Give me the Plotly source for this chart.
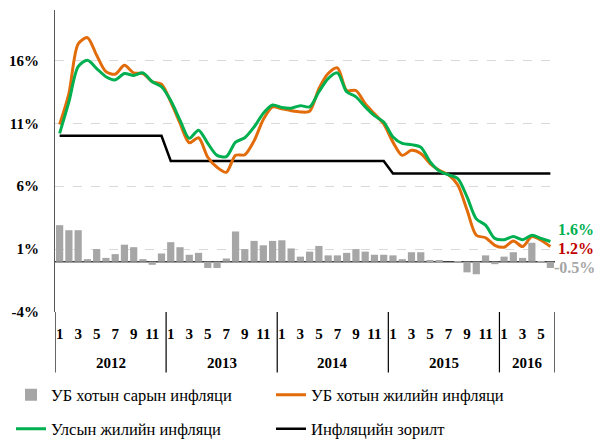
"""Inflation chart: UB monthly / annual inflation, national annual inflation and target"""

import plotly.graph_objects as go

# 2012-01 .. 2016-06
years = ["2012", "2013", "2014", "2015", "2016"]
months_per_year = [12, 12, 12, 12, 6]

ub_monthly = [2.9, 2.5, 2.5, 0.2, 1.0, 0.3, 0.6, 1.35, 1.15, 0.2, -0.25, 0.65,
              1.55, 1.15, 0.55, 0.7, -0.5, -0.5, 0.25, 2.4, 1.0, 1.65, 1.3, 1.65,
              1.7, 1.05, 0.4, 0.8, 1.25, 0.5, 0.5, 0.7, 1.0, 0.8, 0.55, 0.55,
              0.5, 0.2, 0.75, 0.75, 0.1, 0.1, 0.0, 0.05, -0.85, -1.0, 0.5, -0.2,
              0.4, 0.75, 0.3, 1.5, 0.05, -0.5]

ub_annual = [10.9, 13.35, 17.3, 17.8, 16.4, 15.1, 14.9, 15.6, 15.0, 14.95, 14.3, 14.1,
             12.7, 11.0, 9.45, 9.85, 8.3, 7.5, 7.1, 8.45, 8.5, 9.6, 11.3, 12.3,
             12.15, 12.0, 11.9, 11.95, 13.75, 14.95, 15.4, 13.6, 13.6, 12.55, 11.75, 10.95,
             9.5, 8.45, 8.85, 8.6, 7.8, 7.27, 6.9, 6.1, 4.1, 2.1, 1.9, 1.3,
             1.15, 1.65, 1.2, 2.0, 1.7, 1.2]

national_annual = [10.2, 12.7, 15.5, 16.0, 15.35, 14.7, 14.45, 14.95, 14.8, 15.0, 14.3, 13.9,
                   12.8, 11.25, 9.8, 10.45, 9.4, 8.45, 8.35, 9.5, 9.85, 10.7, 11.8, 12.45,
                   12.25, 12.2, 12.4, 12.3, 13.5, 14.55, 15.0, 13.5, 13.1, 12.3, 11.6, 11.1,
                   9.9, 9.4, 9.3, 9.1, 7.95, 7.2, 6.9, 6.6, 5.15, 3.4, 2.9, 1.85,
                   1.75, 2.0, 1.75, 2.1, 1.85, 1.6]

target = [10] * 12 + [8] * 24 + [7] * 18

names = ["УБ хотын сарын инфляци", "УБ хотын жилийн инфляци",
         "Улсын жилийн инфляци", "Инфляцийн зорилт"]

y_ticks = [-4, 1, 6, 11, 16]

serif = "Liberation Serif"
GRAY = "#a6a6a6"
ORANGE = "#e36c0a"
GREEN = "#00b050"

month_nums = [m for n in months_per_year for m in range(1, n + 1)]
x = list(range(len(month_nums)))

fig = go.Figure()
fig.add_trace(go.Bar(x=x, y=ub_monthly, name=names[0], marker_color=GRAY,
                     marker_line_width=0, legend="legend", legendrank=1))
fig.add_trace(go.Scatter(x=x, y=target, name=names[3], mode="lines",
                         line=dict(color="black", width=2.5),
                         legend="legend2", legendrank=4))
fig.add_trace(go.Scatter(x=x, y=ub_annual, name=names[1], mode="lines",
                         line=dict(color=ORANGE, width=3, shape="spline", smoothing=0.8),
                         legend="legend", legendrank=2))
fig.add_trace(go.Scatter(x=x, y=national_annual, name=names[2], mode="lines",
                         line=dict(color=GREEN, width=3, shape="spline", smoothing=0.8),
                         legend="legend2", legendrank=3))

# zero line
fig.add_hline(y=0, line_color="#404040", line_width=1.5, layer="below")

# year group dividers and year labels below the axis
start = 0
bounds = [-0.5]
for yr, n in zip(years, months_per_year):
    fig.add_annotation(x=start + (n - 1) / 2, y=-0.17, xref="x", yref="paper",
                       yanchor="middle", text="<b>%s</b>" % yr, showarrow=False,
                       font=dict(family=serif, size=15, color="black"))
    start += n
    bounds.append(start - 0.5)
for b in bounds:
    fig.add_shape(type="line", x0=b, x1=b, y0=0, y1=-0.2, xref="x", yref="paper",
                  line=dict(color="black", width=1.2))

# end-point labels
fig.add_annotation(x=x[-1], y=national_annual[-1], text="<b>1.6%</b>", showarrow=False,
                   xanchor="left", xshift=6, yshift=12,
                   font=dict(family=serif, size=16, color=GREEN))
fig.add_annotation(x=x[-1], y=ub_annual[-1], text="<b>1.2%</b>", showarrow=False,
                   xanchor="left", xshift=6, yshift=-2,
                   font=dict(family=serif, size=16, color="#c00000"))
fig.add_annotation(x=x[-1], y=ub_monthly[-1], text="<b>-0.5%</b>", showarrow=False,
                   xanchor="left", xshift=2, yshift=0,
                   font=dict(family=serif, size=16, color=GRAY))

odd_idx = [i for i, m in enumerate(month_nums) if m % 2 == 1]
fig.update_xaxes(range=[-0.5, len(x) - 0.5], tickvals=odd_idx,
                 ticktext=["<b>%d</b>" % month_nums[i] for i in odd_idx],
                 tickfont=dict(family=serif, size=15, color="black"),
                 showgrid=False, zeroline=False, showline=False, ticks="",
                 ticklabelstandoff=11)
fig.update_yaxes(range=[-4, 20], tickvals=y_ticks,
                 ticktext=["<b>%d%%</b>" % v for v in y_ticks],
                 tickfont=dict(family=serif, size=15, color="black"),
                 showgrid=True, gridcolor="#d9d9d9", griddash="dash", gridwidth=1,
                 zeroline=False, showline=True, linecolor="#595959", linewidth=1.2,
                 ticks="", ticklabelstandoff=12)

legend_style = dict(orientation="h", xanchor="left", yanchor="middle", entrywidth=215,
                    entrywidthmode="pixels", itemwidth=30,
                    font=dict(family=serif, size=16.5, color="black"),
                    bgcolor="rgba(0,0,0,0)")
fig.update_layout(
    width=598, height=439,
    font=dict(family=serif),
    margin=dict(l=55, r=43, t=10, b=127, autoexpand=False),
    plot_bgcolor="white", paper_bgcolor="white",
    bargap=0.22, showlegend=True,
    legend=dict(x=-0.088, y=-(395 - 312) / 302, **legend_style),
    legend2=dict(x=-0.088, y=-(429 - 312) / 302, **legend_style),
)

# page body has an 8px default margin; drop it so the figure sits at the corner
fig.write_html("out.html", config={"displayModeBar": False},
               post_script="document.body.style.margin='0';")
